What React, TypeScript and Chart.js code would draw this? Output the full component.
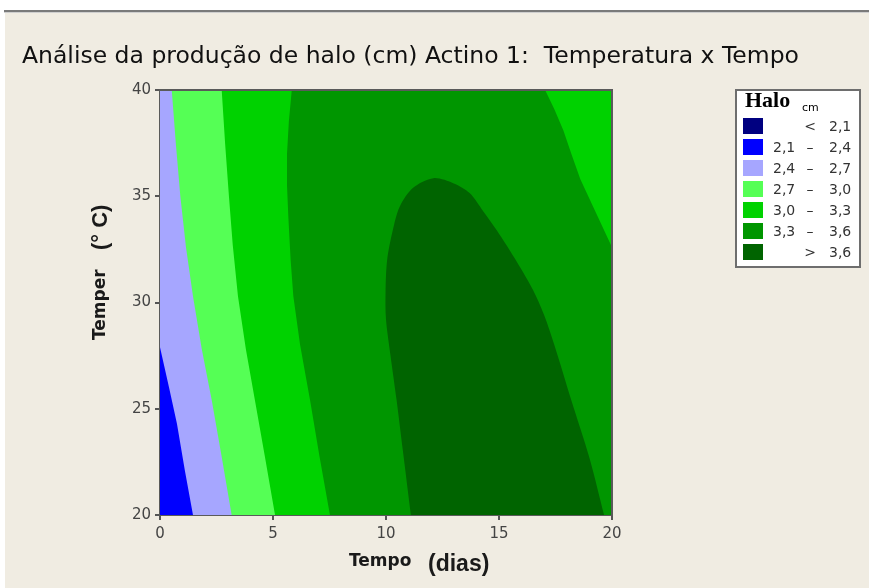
import React, { useEffect, useRef } from 'react';
import { Chart, registerables } from 'chart.js';

Chart.register(...registerables);

const W = 869;
const H = 588;

// ---- text ----
const titleText = 'Análise da produção de halo (cm) Actino 1:  Temperatura x Tempo';
const xTitleParts = ['Tempo', '(dias)'];
const yTitleParts = ['Temper', '(° C)'];
const legendTitle = 'Halo';
const legendUnit = 'cm';

// ---- axes ----
const xRange = [0, 20];
const yRange = [20, 40];
const xTicks = [0, 5, 10, 15, 20];
const yTicks = [20, 25, 30, 35, 40];

// ---- legend ----
const legendLow = ['', '2,1', '2,4', '2,7', '3,0', '3,3', ''];
const legendOp = ['<', '–', '–', '–', '–', '–', '>'];
const legendHigh = ['2,1', '2,4', '2,7', '3,0', '3,3', '3,6', '3,6'];
const legendColors = ['#000080', '#0000FF', '#A6A6FF', '#55FF55', '#00D200', '#009600', '#006400'];

// ---- contour boundaries (Tempo, Temper) ----
const c24: number[][] = [[0, 27.9], [0.4, 26.0], [0.75, 24.3], [1.1, 22.1], [1.46, 20]];
const c27: number[][] = [[0.52, 40], [0.7, 37.5], [0.9, 35], [1.15, 32.6], [1.46, 30.3], [1.85, 27.8], [2.29, 25.4], [2.72, 22.8], [3.17, 20]];
const c30: number[][] = [[2.73, 40], [2.88, 37.5], [3.05, 35], [3.22, 32.7], [3.45, 30.3], [3.8, 27.8], [4.2, 25.4], [4.65, 22.7], [5.09, 20]];
const c33Left: number[][] = [[5.83, 40], [5.7, 38.5], [5.62, 37], [5.62, 35.5], [5.68, 34], [5.78, 32], [5.9, 30.3], [6.2, 28], [6.64, 25.4], [7.05, 22.8], [7.52, 20]];
const c33Right: number[][] = [[17.04, 40], [17.45, 39.1], [17.85, 38.1], [18.2, 37.0], [18.6, 35.8], [19.3, 34.2], [20, 32.6]];
const c36: number[][] = [[11.1, 20], [10.75, 23], [10.47, 25.4], [10.2, 27.5], [10.0, 29.2], [9.98, 30.5], [10.05, 32], [10.3, 33.4], [10.6, 34.5], [11.2, 35.4], [12.1, 35.85], [13.0, 35.6], [13.7, 35.15], [14.3, 34.3], [14.9, 33.4], [15.8, 31.9], [16.5, 30.6], [17.0, 29.4], [17.45, 28.0], [18.2, 25.4], [19.0, 22.7], [19.65, 20]];

const toPts = (arr: number[][]) => arr.map(([x, y]) => ({ x, y }));

const regions = [
  { color: legendColors[1], pts: [...c24, [xRange[0], yRange[0]]], smooth: 0 },
  { color: legendColors[2], pts: [[xRange[0], yRange[1]], ...c27, [xRange[0], yRange[0]]], smooth: 0 },
  { color: legendColors[3], pts: [[xRange[0], yRange[1]], ...c30, [xRange[0], yRange[0]]], smooth: 0 },
  { color: legendColors[6], pts: c36, smooth: 0.3 },
  { color: legendColors[5], pts: [...c33Left, [xRange[1], yRange[0]], ...[...c33Right].reverse()], smooth: 0 },
  { color: legendColors[4], pts: [[xRange[0], yRange[0]], [xRange[1], yRange[0]], [xRange[1], yRange[1]], [xRange[0], yRange[1]]], smooth: 0 },
];

const decorPlugin = {
  id: 'decor',
  beforeDraw(chart: any) {
    const ctx = chart.ctx;
    ctx.save();
    ctx.fillStyle = '#ffffff';
    ctx.fillRect(0, 0, W, H);
    ctx.fillStyle = '#F0ECE2';
    ctx.fillRect(5, 13, W - 5, H - 13);
    ctx.fillStyle = '#7a7a7a';
    ctx.fillRect(4, 10, W - 4, 2);
    ctx.fillStyle = '#cfcfcf';
    ctx.fillRect(4, 12, W - 4, 1);
    ctx.restore();
  },
  afterDraw(chart: any) {
    const ctx = chart.ctx;
    const a = chart.chartArea;
    ctx.save();
    // plot frame top/right
    ctx.strokeStyle = '#5a5a5a';
    ctx.lineWidth = 2;
    ctx.beginPath();
    ctx.moveTo(a.left, a.top);
    ctx.lineTo(a.right, a.top);
    ctx.lineTo(a.right, a.bottom);
    ctx.stroke();

    // title
    ctx.fillStyle = '#111111';
    ctx.textBaseline = 'alphabetic';
    ctx.textAlign = 'left';
    ctx.font = '23.5px "DejaVu Sans"';
    ctx.fillText(titleText, 22, 63);

    // x title
    ctx.fillStyle = '#1a1a1a';
    ctx.font = 'bold 17px "DejaVu Sans"';
    ctx.fillText(xTitleParts[0], 349, 566);
    ctx.font = 'bold 23px "Liberation Sans"';
    ctx.fillText(xTitleParts[1], 428, 571);

    // y title
    ctx.save();
    ctx.translate(105, 340);
    ctx.rotate(-Math.PI / 2);
    ctx.font = 'bold 17px "DejaVu Sans"';
    ctx.fillText(yTitleParts[0], 0, 0);
    ctx.font = 'bold 22px "Liberation Sans"';
    ctx.fillText(yTitleParts[1], 90, 2);
    ctx.restore();

    // legend
    const bx = 736, by = 90, bw = 124, rowH = 21;
    const bh = 30 + legendColors.length * rowH;
    ctx.fillStyle = '#ffffff';
    ctx.fillRect(bx, by, bw, bh);
    ctx.strokeStyle = '#6e6e6e';
    ctx.lineWidth = 2;
    ctx.strokeRect(bx, by, bw, bh);
    ctx.fillStyle = '#000000';
    ctx.font = 'bold 22px "Liberation Serif"';
    ctx.fillText(legendTitle, bx + 9, by + 17);
    ctx.font = '11px "DejaVu Sans"';
    ctx.fillText(legendUnit, bx + 66, by + 21);
    for (let i = 0; i < legendColors.length; i++) {
      const ry = by + 28 + i * rowH;
      ctx.fillStyle = legendColors[i];
      ctx.fillRect(bx + 7, ry, 20, 16);
      ctx.fillStyle = '#333333';
      ctx.font = '14px "DejaVu Sans"';
      ctx.textAlign = 'left';
      ctx.fillText(legendLow[i], bx + 37, ry + 13);
      ctx.textAlign = 'center';
      ctx.fillText(legendOp[i], bx + 74, ry + 13);
      ctx.textAlign = 'left';
      ctx.fillText(legendHigh[i], bx + 93, ry + 13);
    }
    ctx.restore();
  },
};

export default function App() {
  const ref = useRef<HTMLCanvasElement | null>(null);
  useEffect(() => {
    if (!ref.current) return;
    const chart = new Chart(ref.current, {
      type: 'scatter',
      data: {
        datasets: regions.map((r) => ({
          data: toPts(r.pts),
          showLine: true,
          fill: 'shape',
          backgroundColor: r.color,
          borderColor: r.color,
          borderWidth: 0,
          pointRadius: 0,
          pointHoverRadius: 0,
          tension: r.smooth,
        })),
      } as any,
      plugins: [decorPlugin],
      options: {
        animation: false,
        responsive: false,
        devicePixelRatio: 1,
        events: [],
        layout: { padding: { left: 0, top: 90, right: W - 612, bottom: 0 } },
        plugins: { legend: { display: false }, tooltip: { enabled: false }, title: { display: false } },
        scales: {
          x: {
            type: 'linear',
            min: xRange[0],
            max: xRange[1],
            afterBuildTicks: (s: any) => { s.ticks = xTicks.map((v) => ({ value: v })); },
            afterFit: (s: any) => { s.height = 73; },
            grid: { display: true, drawOnChartArea: false, drawTicks: true, tickLength: 5, color: '#555555', lineWidth: 2 },
            border: { display: true, color: '#5a5a5a', width: 2 },
            ticks: { color: '#444444', font: { family: 'DejaVu Sans', size: 15 }, padding: 5, maxRotation: 0 },
          },
          y: {
            type: 'linear',
            min: yRange[0],
            max: yRange[1],
            afterBuildTicks: (s: any) => { s.ticks = yTicks.map((v) => ({ value: v })); },
            afterFit: (s: any) => { s.width = 160; },
            grid: { display: true, drawOnChartArea: false, drawTicks: true, tickLength: 5, color: '#555555', lineWidth: 2 },
            border: { display: true, color: '#5a5a5a', width: 2 },
            ticks: { color: '#444444', font: { family: 'DejaVu Sans', size: 15 }, padding: 4 },
          },
        },
      } as any,
    });
    return () => chart.destroy();
  }, []);
  return (
    <div style={{ position: 'fixed', left: 0, top: 0, width: W, height: H }}>
      <canvas ref={ref} width={W} height={H} style={{ display: 'block' }} />
    </div>
  );
}
